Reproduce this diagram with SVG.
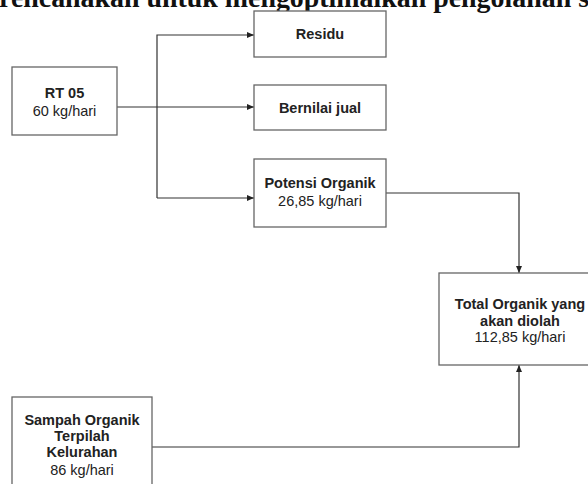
<svg xmlns="http://www.w3.org/2000/svg" width="588" height="484" viewBox="0 0 588 484">
<defs>
<marker id="arr" markerWidth="7" markerHeight="6" refX="7" refY="3" orient="auto" markerUnits="userSpaceOnUse">
<path d="M0,0 L7,3 L0,6 Z" fill="#222"/>
</marker>
<style>
.box{fill:#fff;stroke:#666;stroke-width:1.3}
.t{font-family:"Liberation Sans",Arial,sans-serif;font-size:14.5px;fill:#222;text-anchor:middle}
.b{font-weight:bold}
.c{fill:none;stroke:#333;stroke-width:1.2}
.top{font-family:"Liberation Serif","Times New Roman",serif;font-size:27px;font-weight:bold;fill:#111}
</style>
</defs>
<rect width="588" height="484" fill="#fff"/>
<text class="top" x="-1" y="7" textLength="590" lengthAdjust="spacingAndGlyphs">rencanakan untuk mengoptimalkan pengolahan s</text>
<g id="connectors">
<path class="c" d="M117,107 H254" marker-end="url(#arr)"/>
<path class="c" d="M157,198 V35 H254" marker-end="url(#arr)"/>
<path class="c" d="M157,198 H254" marker-end="url(#arr)"/>
<path class="c" d="M386,193 H519 V273" marker-end="url(#arr)"/>
<path class="c" d="M152,447 H519 V365" marker-end="url(#arr)"/>
</g>
<g id="rt05">
<rect class="box" x="12" y="67" width="105" height="68"/>
<text class="t b" x="64.5" y="98">RT 05</text>
<text class="t" x="64.5" y="116">60 kg/hari</text>
</g>
<g id="residu">
<rect class="box" x="254" y="11" width="132" height="46"/>
<text class="t b" x="320" y="39">Residu</text>
</g>
<g id="bernilai">
<rect class="box" x="254" y="85" width="132" height="45"/>
<text class="t b" x="320" y="113">Bernilai jual</text>
</g>
<g id="potensi">
<rect class="box" x="254" y="159" width="132" height="68"/>
<text class="t b" x="320" y="188">Potensi Organik</text>
<text class="t" x="320" y="206">26,85 kg/hari</text>
</g>
<g id="total">
<rect class="box" x="439" y="273" width="162" height="92"/>
<text class="t b" x="520" y="309">Total Organik yang</text>
<text class="t b" x="520" y="326">akan diolah</text>
<text class="t" x="520" y="342">112,85 kg/hari</text>
</g>
<g id="sampah">
<rect class="box" x="12" y="397" width="140" height="100"/>
<text class="t b" x="82" y="425">Sampah Organik</text>
<text class="t b" x="82" y="441">Terpilah</text>
<text class="t b" x="82" y="457">Kelurahan</text>
<text class="t" x="82" y="475">86 kg/hari</text>
</g>
</svg>
